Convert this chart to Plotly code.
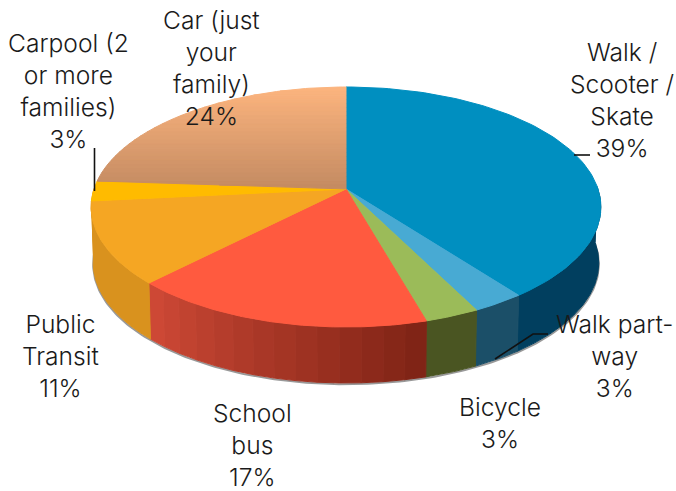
import numpy as np
import plotly.graph_objects as go

# ---- data ----
categories = ["Walk /<br>Scooter /<br>Skate", "Walk part-<br>way<br>", "Bicycle", "School<br>bus",
              "Public<br>Transit", "Carpool (2<br>or more<br>families)", "Car (just<br>your<br>family)"]
percent_labels = ["39%", "3%", "3%", "17%", "11%", "3%", "24%"]
slice_shares = [39.7, 2.9, 3.0, 16.7, 11.1, 2.7, 23.9]
top_colors = ["#008FC0", "#48AAD3", "#9BBB59", "#FF5A3F", "#F5A623", "#FFBB00", "#FDB57F"]
side_colors_start = ["#013F5F", "#1B4F68", "#4A5522", "#7E2315", "#D9921E", "#D9921E", "#B08050"]
side_colors_end = ["#013F5F", "#1B4F68", "#4A5522", "#D04A37", "#D9921E", "#D9921E", "#B08050"]
label_x = [622, 614, 500, 252, 60, 68, 211]
label_y = [100, 356, 423, 445, 356, 91, 68]
car_bottom_color = "#C48B62"
leaders = [([574, 590], [155, 155]), ([495, 533, 548], [359, 334, 334]), ([94.5, 94.5], [148, 191])]

# ---- projection of the tilted disc onto the page ----
CX, CY = 346.0, 189.0
K, A, B = 0.15, 252.0, 117.3
DEPTH = 56.0


def project(angle, drop=0.0, scale=1.0):
    x, z = np.sin(angle), np.cos(angle)
    d = 1 + K * z
    return CX + scale * A * x / d, CY - B * z / d + drop


def rgb(h):
    return np.array([int(h[i:i + 2], 16) for i in (1, 3, 5)], float)


def mix(a, b, t):
    c = rgb(a) * (1 - t) + rgb(b) * t
    return "rgb(%d,%d,%d)" % tuple(c)


def poly(xs, ys, color):
    return go.Scatter(x=list(xs), y=list(ys), mode="lines", fill="toself", fillcolor=color,
                      line=dict(color=color, width=1), hoverinfo="skip", showlegend=False)


def clip(xs, ys, ymin, ymax):
    pts = list(zip(xs, ys))
    for bound, keep_above in ((ymin, True), (ymax, False)):
        out = []
        for i, p in enumerate(pts):
            q = pts[(i + 1) % len(pts)]
            pin = p[1] >= bound if keep_above else p[1] <= bound
            qin = q[1] >= bound if keep_above else q[1] <= bound
            if pin:
                out.append(p)
            if pin != qin:
                t = (bound - p[1]) / (q[1] - p[1])
                out.append((p[0] + t * (q[0] - p[0]), bound))
        pts = out
        if not pts:
            return [], []
    return [p[0] for p in pts], [p[1] for p in pts]


shares = np.array(slice_shares)
edges = np.concatenate([[0], np.cumsum(shares) / shares.sum()]) * 2 * np.pi
traces = []

# contact shadow along the lower rim
sa = np.linspace(np.pi / 2 - 0.02, 3 * np.pi / 2 + 0.02, 200)
sx, sy = project(sa, DEPTH + 1.2, 0.992)
traces.append(go.Scatter(x=sx, y=sy, mode="lines", line=dict(color="rgba(70,70,70,0.55)", width=2),
                         hoverinfo="skip", showlegend=False))

# side walls
SIDE_LO, SIDE_HI = np.pi / 2 - 0.02, 3 * np.pi / 2 + 0.02
for i in range(len(shares)):
    a0, a1 = max(edges[i], SIDE_LO), min(edges[i + 1], SIDE_HI)
    if a1 <= a0:
        continue
    n = 14 if side_colors_start[i] != side_colors_end[i] else 1
    steps = np.linspace(a0, a1, n + 1)
    for j in range(n):
        arc = np.linspace(steps[j], steps[j + 1], 12)
        tx, ty = project(arc)
        bx, by = project(arc[::-1], DEPTH, 0.992)
        col = mix(side_colors_start[i], side_colors_end[i], (j + 0.5) / n)
        traces.append(poly(np.r_[tx, bx, tx[0]], np.r_[ty, by, ty[0]], col))

# top faces
for i in range(len(shares)):
    arc = np.linspace(edges[i], edges[i + 1], 90)
    ax, ay = project(arc)
    xs, ys = np.r_[CX, ax, CX], np.r_[CY, ay, CY]
    if i == len(shares) - 1:
        top, bot = ys.min(), ys.max()
        bands = np.linspace(top, bot, 26)
        for j in range(25):
            bx, by = clip(list(xs[:-1]), list(ys[:-1]), bands[j], bands[j + 1])
            if bx:
                traces.append(poly(bx + bx[:1], by + by[:1], mix(top_colors[i], car_bottom_color, (j + 0.5) / 25)))
    else:
        traces.append(poly(xs, ys, top_colors[i]))

# leader lines
for lx, ly in leaders:
    traces.append(go.Scatter(x=lx, y=ly, mode="lines", line=dict(color="#111111", width=1.6),
                             hoverinfo="skip", showlegend=False))

fig = go.Figure(traces)
for name, pct, x, y in zip(categories, percent_labels, label_x, label_y):
    sep = "" if name.endswith("<br>") else "<br>"
    fig.add_annotation(x=x, y=y, xref="x", yref="y", text=name + sep + pct, showarrow=False,
                       xanchor="center", yanchor="middle", align="center",
                       font=dict(family="Inter", size=24.6, color="#1a1a1a", weight=300))

fig.update_layout(width=676, height=491, margin=dict(l=0, r=0, t=0, b=0),
                  paper_bgcolor="white", plot_bgcolor="white", showlegend=False,
                  xaxis=dict(range=[0, 676], visible=False, fixedrange=True),
                  yaxis=dict(range=[491, 0], visible=False, fixedrange=True))
fig.write_html("out.html", config=dict(displayModeBar=False),
               post_script="document.body.style.margin='0';document.body.style.overflow='hidden';")
